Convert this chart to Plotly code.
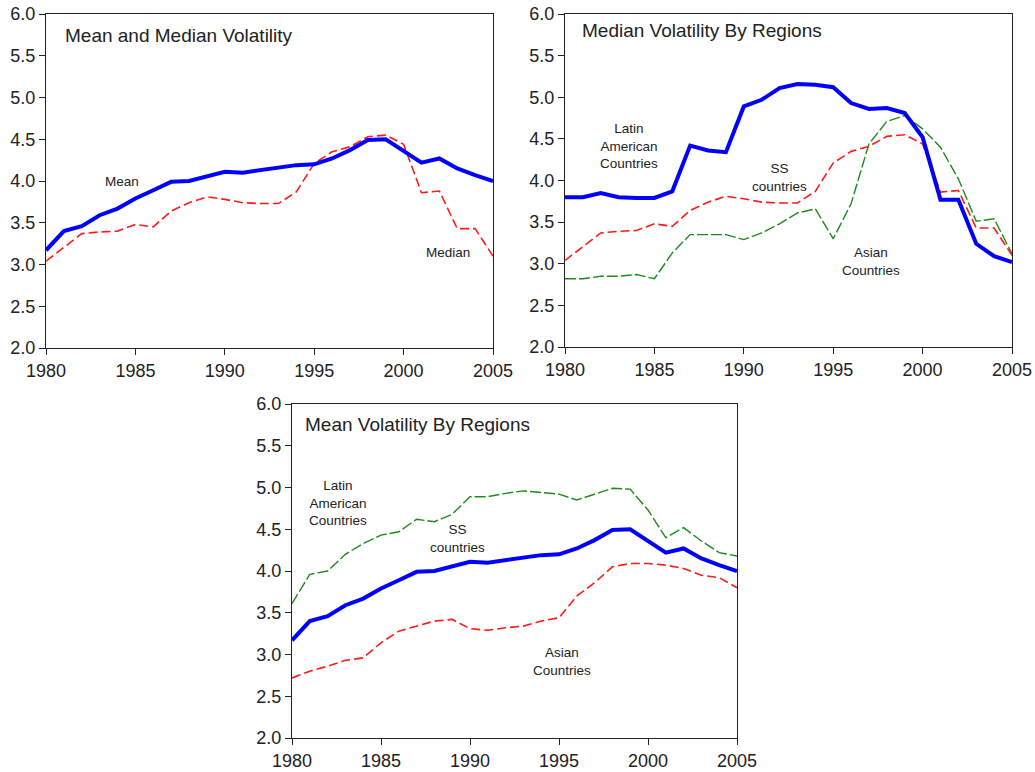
import plotly.graph_objects as go

# ===============================
# DATA
# ===============================
years = list(range(1980, 2006))

mean_vol = [3.17, 3.40, 3.46, 3.59, 3.67, 3.79, 3.89, 3.99, 4.00, 4.05,
            4.11, 4.10, 4.13, 4.16, 4.19, 4.20, 4.27, 4.37, 4.49, 4.50,
            4.36, 4.22, 4.27, 4.15, 4.07, 4.00]

median_vol = [3.04, 3.20, 3.37, 3.39, 3.40, 3.48, 3.45, 3.64, 3.74, 3.81,
              3.78, 3.74, 3.73, 3.73, 3.87, 4.21, 4.35, 4.41, 4.53, 4.55,
              4.44, 3.86, 3.88, 3.43, 3.43, 3.10]

# median volatility by region
median_latin = [3.80, 3.80, 3.85, 3.80, 3.79, 3.79, 3.87, 4.42, 4.36, 4.34,
                4.89, 4.97, 5.11, 5.16, 5.15, 5.12, 4.93, 4.86, 4.87, 4.81,
                4.52, 3.77, 3.77, 3.24, 3.09, 3.02]
median_ss = median_vol
median_asian = [2.82, 2.82, 2.85, 2.85, 2.87, 2.82, 3.13, 3.35, 3.35, 3.35,
                3.29, 3.37, 3.48, 3.61, 3.66, 3.30, 3.72, 4.44, 4.71, 4.78,
                4.62, 4.40, 4.02, 3.51, 3.54, 3.12]

# mean volatility by region
mean_latin = [3.61, 3.96, 4.00, 4.20, 4.33, 4.43, 4.47, 4.62, 4.59, 4.68,
              4.89, 4.89, 4.93, 4.96, 4.94, 4.92, 4.85, 4.92, 4.99, 4.98,
              4.73, 4.40, 4.52, 4.36, 4.22, 4.18]
mean_ss = mean_vol
mean_asian = [2.72, 2.80, 2.86, 2.93, 2.96, 3.14, 3.28, 3.34, 3.40, 3.42,
              3.31, 3.29, 3.32, 3.34, 3.40, 3.44, 3.70, 3.86, 4.05, 4.09,
              4.09, 4.07, 4.03, 3.95, 3.92, 3.80]

panel_titles = ["Mean and Median Volatility",
                "Median Volatility By Regions",
                "Mean Volatility By Regions"]

x_ticks = [1980, 1985, 1990, 1995, 2000, 2005]
y_ticks = [2.0, 2.5, 3.0, 3.5, 4.0, 4.5, 5.0, 5.5, 6.0]

# ===============================
# STYLE
# ===============================
FONT = "Liberation Sans, Arial, sans-serif"
BLUE = "#0000ff"
RED = "#ff1a1a"
GREEN = "#1e8a1e"

W, H = 1035, 772


def px_x(p):
    return p / W


def px_y(p):
    return 1 - p / H


# plot areas in pixels: (left, right, top, bottom)
boxes = [(46, 493, 14, 348), (565, 1012, 14, 347), (292, 737, 404, 738)]

fig = go.Figure()


def thick(y, ax):
    return go.Scatter(x=years, y=y, mode="lines", xaxis="x" + ax, yaxis="y" + ax,
                      line=dict(color=BLUE, width=4), showlegend=False,
                      hoverinfo="skip")


def red_dash(y, ax):
    return go.Scatter(x=years, y=y, mode="lines", xaxis="x" + ax, yaxis="y" + ax,
                      line=dict(color=RED, width=1.6, dash="9px,4px"),
                      showlegend=False, hoverinfo="skip")


def green_dash(y, ax):
    return go.Scatter(x=years, y=y, mode="lines", xaxis="x" + ax, yaxis="y" + ax,
                      line=dict(color=GREEN, width=1.4, dash="11px,3px"),
                      showlegend=False, hoverinfo="skip")


# panel 1
fig.add_trace(red_dash(median_vol, ""))
fig.add_trace(thick(mean_vol, ""))
# panel 2
fig.add_trace(green_dash(median_asian, "2"))
fig.add_trace(red_dash(median_ss, "2"))
fig.add_trace(thick(median_latin, "2"))
# panel 3
fig.add_trace(green_dash(mean_latin, "3"))
fig.add_trace(red_dash(mean_asian, "3"))
fig.add_trace(thick(mean_ss, "3"))

axis_common = dict(showline=True, mirror=True, linecolor="#222", linewidth=1,
                   ticks="outside", ticklen=6, tickcolor="#222",
                   showgrid=False, zeroline=False, automargin=False,
                   tickfont=dict(family=FONT, size=18, color="#222"))

layout = dict(width=W, height=H, margin=dict(l=0, r=0, t=0, b=0),
              paper_bgcolor="white", plot_bgcolor="white", showlegend=False)

for i, (l, r, t, b) in enumerate(boxes):
    suf = "" if i == 0 else str(i + 1)
    layout["xaxis" + suf] = dict(axis_common, domain=[px_x(l), px_x(r)],
                                 range=[1980, 2005], tickvals=x_ticks,
                                 anchor="y" + suf)
    layout["yaxis" + suf] = dict(axis_common, domain=[px_y(b), px_y(t)],
                                 range=[2, 6], tickvals=y_ticks,
                                 tickformat=".1f", anchor="x" + suf)

fig.update_layout(**layout)

annotations = []
title_pos = [(0.038, 0.937), (0.034, 0.949), (0.025, 0.94)]
for i, (txt, (tx, ty)) in enumerate(zip(panel_titles, title_pos)):
    suf = "" if i == 0 else str(i + 1)
    annotations.append(dict(text=txt, xref="x" + suf + " domain",
                            yref="y" + suf + " domain", x=tx, y=ty,
                            xanchor="left", yanchor="middle", showarrow=False,
                            font=dict(family=FONT, size=19, color="#222")))

labels = [
    ("Mean", "", 1984.25, 3.99),
    ("Median", "", 2002.5, 3.14),
    ("Latin<br>American<br>Countries", "2", 1983.6, 4.42),
    ("SS<br>countries", "2", 1992.0, 4.04),
    ("Asian<br>Countries", "2", 1997.1, 3.03),
    ("Latin<br>American<br>Countries", "3", 1982.6, 4.81),
    ("SS<br>countries", "3", 1989.3, 4.39),
    ("Asian<br>Countries", "3", 1995.15, 2.92),
]
for txt, suf, x, y in labels:
    annotations.append(dict(text=txt, xref="x" + suf, yref="y" + suf, x=x, y=y,
                            showarrow=False, align="center",
                            font=dict(family=FONT, size=13.5, color="#222")))

fig.update_layout(annotations=annotations)

# page body has a default 8px margin; drop it so the figure fills the window
fig.write_html("out.html", config={"displayModeBar": False},
               post_script="document.body.style.margin='0';"
                           "document.body.style.overflow='hidden';")
